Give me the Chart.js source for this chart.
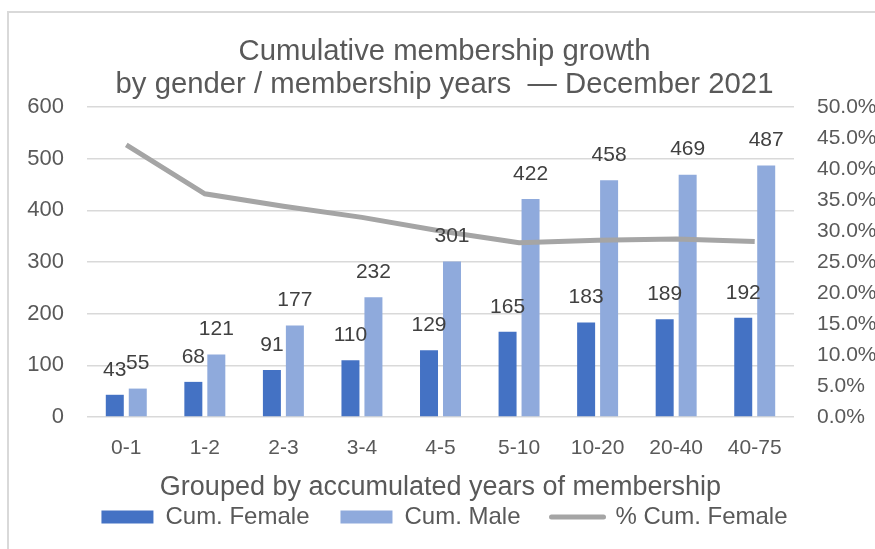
<!DOCTYPE html>
<html><head><meta charset="utf-8">
<script src="https://cdn.jsdelivr.net/npm/chart.js@4.4.1/dist/chart.umd.min.js"></script>
<style>
html,body{margin:0;padding:0;background:#fff;}
#wrap{position:relative;width:875px;height:549px;overflow:hidden;background:#fff;}
#frame{position:absolute;left:7px;top:11px;width:1000px;height:1000px;border-left:2px solid #d9d9d9;border-top:2px solid #d9d9d9;}
canvas{position:absolute;left:0;top:0;}
</style></head>
<body><div id="wrap"><div id="frame"></div><canvas id="c" width="875" height="549"></canvas></div>
<script>
const categories = ['0-1','1-2','2-3','3-4','4-5','5-10','10-20','20-40','40-75'];
const cumFemale = [43,68,91,110,129,165,183,189,192];
const cumMale = [55,121,177,232,301,422,458,469,487];
const pctCumFemale = [43.9,36.0,34.0,32.2,30.0,28.1,28.5,28.7,28.3];
const titleLines = ['Cumulative membership growth','by gender / membership years  \u2014 December 2021'];
const xTitle = 'Grouped by accumulated years of membership';
const seriesNames = ['Cum. Female','Cum. Male','% Cum. Female'];

const FAMILY = "'Liberation Sans', Arial, sans-serif";
const TXT = '#595959';
Chart.defaults.font.family = FAMILY;

const barLabels = {
  id:'barLabels',
  afterDatasetsDraw(chart){
    const ctx = chart.ctx;
    ctx.save();
    ctx.font = '21px ' + FAMILY;
    ctx.fillStyle = '#404040';
    ctx.textAlign = 'center';
    ctx.textBaseline = 'middle';
    [0,1].forEach(di=>{
      const meta = chart.getDatasetMeta(di);
      meta.data.forEach((el,i)=>{
        ctx.fillText(String(chart.data.datasets[di].data[i]), el.x, el.y - 25);
      });
    });
    ctx.restore();
  }
};

new Chart(document.getElementById('c'), {
  type:'bar',
  data:{
    labels:categories,
    datasets:[
      {label:seriesNames[0], data:cumFemale, backgroundColor:'#4472C4', yAxisID:'y', order:1,
       barPercentage:0.783, categoryPercentage:0.585},
      {label:seriesNames[1], data:cumMale, backgroundColor:'#8FAADC', yAxisID:'y', order:1,
       barPercentage:0.783, categoryPercentage:0.585},
      {label:seriesNames[2], type:'line', data:pctCumFemale, borderColor:'#A5A5A5', backgroundColor:'#A5A5A5',
       borderWidth:5, pointRadius:0, tension:0, yAxisID:'y1', order:0}
    ]
  },
  options:{
    responsive:false, animation:false,
    layout:{padding:{top:0,left:0,right:-14,bottom:10}},
    plugins:{
      tooltip:{enabled:false},
      title:{display:true, text:titleLines, color:TXT,
        font:{size:29.3, weight:'normal', lineHeight:33/29.3}, padding:{top:35,bottom:6}},
      legend:{position:'bottom',
        labels:{usePointStyle:true, pointStyleWidth:52, boxHeight:13, padding:31, color:TXT,
          font:{size:24},
          generateLabels(chart){
            return chart.data.datasets.map((ds,i)=>{
              const isLine = ds.type==='line';
              return {text:ds.label, datasetIndex:i,
                fillStyle: isLine ? ds.borderColor : ds.backgroundColor,
                strokeStyle: isLine ? ds.borderColor : ds.backgroundColor,
                lineWidth: isLine ? 5 : 0,
                pointStyle: isLine ? 'line' : 'rect',
                lineCap:'round', fontColor:TXT, hidden:false};
            });
          }
        }
      }
    },
    scales:{
      x:{grid:{display:false}, border:{display:false},
        ticks:{color:TXT, font:{size:21}, padding:11, maxRotation:0, autoSkip:false},
        title:{display:true, text:xTitle, color:TXT, font:{size:27}, padding:{top:0,bottom:-30}},
        afterFit(s){ s.height = 57; }
      },
      y:{position:'left', min:0, max:600,
        ticks:{stepSize:100, color:TXT, font:{size:22}, padding:23},
        grid:{color:'#D9D9D9', lineWidth:1.5, drawTicks:false},
        border:{display:false},
        afterFit(s){ s.width = 87; }
      },
      y1:{position:'right', min:0, max:50,
        ticks:{stepSize:5, color:TXT, font:{size:21}, padding:23, callback:v=>v.toFixed(1)+'%'},
        grid:{display:false, drawTicks:false},
        border:{display:false},
        afterFit(s){ s.width = 95; }
      }
    }
  },
  plugins:[barLabels]
});
</script>
</body></html>
